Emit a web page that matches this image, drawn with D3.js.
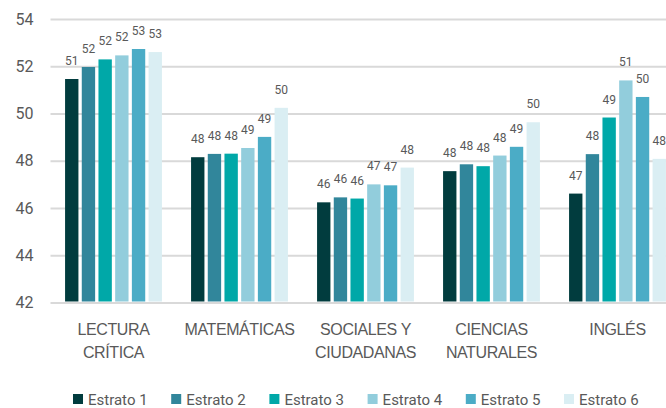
<!DOCTYPE html>
<html>
<head>
<meta charset="utf-8">
<script src="https://cdn.jsdelivr.net/npm/d3@7"></script>
<style>
  html, body { margin: 0; padding: 0; background: #fff; overflow: hidden; }
  svg { display: block; font-family: Roboto, "Noto Sans", sans-serif; }
</style>
</head>
<body>
<svg id="chart" width="666" height="408"></svg>
<script>
// ---- data ----
const categories = ["LECTURA CRÍTICA", "MATEMÁTICAS", "SOCIALES Y CIUDADANAS", "CIENCIAS NATURALES", "INGLÉS"];
const categoryLines = [["LECTURA", "CRÍTICA"], ["MATEMÁTICAS"], ["SOCIALES Y", "CIUDADANAS"], ["CIENCIAS", "NATURALES"], ["INGLÉS"]];
const seriesNames = ["Estrato 1", "Estrato 2", "Estrato 3", "Estrato 4", "Estrato 5", "Estrato 6"];
const estrato1 = [51.46, 48.15, 46.24, 47.56, 46.61];
const estrato2 = [51.97, 48.29, 46.45, 47.85, 48.28];
const estrato3 = [52.29, 48.30, 46.40, 47.77, 49.83];
const estrato4 = [52.46, 48.54, 47.00, 48.22, 51.40];
const estrato5 = [52.73, 49.01, 46.96, 48.59, 50.70];
const estrato6 = [52.60, 50.24, 47.71, 49.63, 48.08];
const labels1 = ["51", "48", "46", "48", "47"];
const labels2 = ["52", "48", "46", "48", "48"];
const labels3 = ["52", "48", "46", "48", "49"];
const labels4 = ["52", "49", "47", "48", "51"];
const labels5 = ["53", "49", "47", "49", "50"];
const labels6 = ["53", "50", "48", "50", "48"];
const yTicks = [42, 44, 46, 48, 50, 52, 54];
const colors = ["#013C3E", "#31869B", "#00A8A8", "#92CDDC", "#4BACC6", "#DAEEF3"];

const seriesValues = [estrato1, estrato2, estrato3, estrato4, estrato5, estrato6];
const seriesLabels = [labels1, labels2, labels3, labels4, labels5, labels6];

// ---- layout ----
const svg = d3.select("#chart");
const plotLeft = 50.5, plotRight = 680.5, plotTop = 19, plotBottom = 302.5;

const x0 = d3.scaleBand().domain(categories).range([plotLeft, plotRight]).padding(0);
const groupW = 100.2;
const x1 = d3.scaleBand().domain(seriesNames).range([0, groupW]).paddingInner(0.2).paddingOuter(0.1);
const y = d3.scaleLinear().domain([42, 54]).range([plotBottom, plotTop]);

// gridlines + y labels
const yAxis = d3.axisLeft(y).tickValues(yTicks).tickSize(-(666 - plotLeft)).tickPadding(17).tickFormat(d3.format("d"));
const gy = svg.append("g").attr("transform", `translate(${plotLeft},0)`).call(yAxis);
gy.select(".domain").remove();
gy.selectAll(".tick line").attr("stroke", "#D9D9D9").attr("stroke-width", 2);
gy.selectAll(".tick text").attr("fill", "#595959").style("font-size", "16px").attr("font-family", "Roboto, sans-serif");

// bars
const groups = svg.append("g").selectAll("g")
  .data(categories)
  .join("g")
  .attr("transform", d => `translate(${x0(d) + x0.bandwidth() / 2 - groupW / 2},0)`);

groups.each(function(cat, ci) {
  const g = d3.select(this);
  const rows = seriesNames.map((s, si) => ({ s, si, v: seriesValues[si][ci], label: seriesLabels[si][ci] }));
  g.selectAll("rect").data(rows).join("rect")
    .attr("x", d => x1(d.s))
    .attr("width", x1.bandwidth())
    .attr("y", d => y(d.v))
    .attr("height", d => y(42) - y(d.v) - 1)
    .attr("fill", d => colors[d.si]);
  g.selectAll("text").data(rows).join("text")
    .attr("x", d => x1(d.s) + x1.bandwidth() / 2)
    .attr("y", d => y(d.v) - 14)
    .attr("text-anchor", "middle")
    .attr("fill", "#595959")
    .style("font-size", "12px")
    .text(d => d.label);
});

// category labels
const xAxis = d3.axisBottom(x0).tickSize(0).tickPadding(0).tickFormat("");
const gx = svg.append("g").attr("transform", `translate(0,${plotBottom})`).call(xAxis);
gx.select(".domain").remove();
gx.selectAll(".tick").each(function(d, i) {
  const t = d3.select(this).append("text")
    .attr("text-anchor", "middle")
    .attr("fill", "#595959")
    .style("font-size", "16px")
    .style("letter-spacing", "-0.4px");
  categoryLines[i].forEach((line, li) => {
    t.append("tspan").attr("x", 0).attr("y", 32.5 + li * 23).text(line);
  });
});

// legend
const legendX0 = 73, legendStep = 98.2, legendY = 394;
const lg = svg.append("g").selectAll("g").data(seriesNames).join("g")
  .attr("transform", (d, i) => `translate(${legendX0 + i * legendStep},${legendY})`);
lg.append("rect").attr("width", 10).attr("height", 10).attr("fill", (d, i) => colors[i]);
lg.append("text").attr("x", 15).attr("y", 10.5)
  .attr("fill", "#595959").style("font-size", "15px").text(d => d);
</script>
</body>
</html>
